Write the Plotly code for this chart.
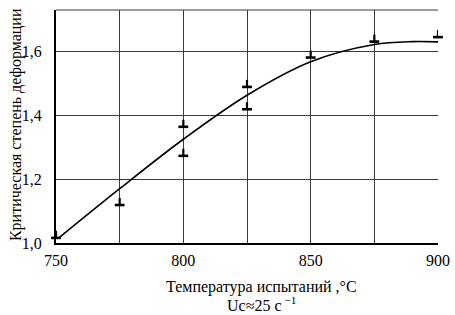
import plotly.graph_objects as go

# Experimental points (critical deformation degree)
pt_temp = [750, 775, 800, 800, 825, 825, 850, 875, 900]
pt_value = [1.016, 1.119, 1.364, 1.273, 1.489, 1.419, 1.581, 1.631, 1.645]

# Smoothed curve
curve_temp = [751, 775, 800, 825, 850, 875, 890, 900]
curve_value = [1.015, 1.17, 1.325, 1.463, 1.568, 1.622, 1.631, 1.630]

x_ticks = [750, 800, 850, 900]
y_ticks = [1.0, 1.2, 1.4, 1.6]

FONT = "Liberation Serif, Times New Roman, DejaVu Serif, serif"

fig = go.Figure()

fig.add_trace(go.Scatter(
    x=curve_temp, y=curve_value, mode="lines",
    line=dict(color="black", width=1.6, shape="spline", smoothing=1.0),
    hoverinfo="skip", showlegend=False,
))

# marker: horizontal base bar plus an upward stem (drawn as one-sided error bar)
fig.add_trace(go.Scatter(
    x=pt_temp, y=pt_value, mode="markers", cliponaxis=False,
    marker=dict(symbol="line-ew", size=7, line=dict(color="black", width=2.6)),
    error_y=dict(type="constant", symmetric=False, value=0.022, valueminus=0,
                 width=0, thickness=2.2, color="black"),
    showlegend=False,
))

fig.update_layout(
    width=455, height=315,
    margin=dict(l=56, r=17, t=10, b=72),
    paper_bgcolor="white", plot_bgcolor="white",
    separators=", ",
    font=dict(family=FONT, size=16, color="black"),
    xaxis=dict(
        range=[750, 900], tickvals=x_ticks, tickformat="d",
        showgrid=True, gridcolor="#3a3a3a", gridwidth=1,
        minor=dict(dtick=25, tick0=750, showgrid=True, gridcolor="#3a3a3a", gridwidth=1),
        showline=True, linecolor="black", linewidth=2,
        ticks="", zeroline=False, ticklabelstandoff=2, automargin=False,
        tickfont=dict(family=FONT, size=16),
    ),
    yaxis=dict(
        range=[1.0, 1.73], tickvals=y_ticks, tickformat=".1f",
        showgrid=True, gridcolor="#3a3a3a", gridwidth=1,
        showline=True, linecolor="black", linewidth=2,
        ticks="", zeroline=False, ticklabelstandoff=9, automargin=False,
        tickfont=dict(family=FONT, size=16),
    ),
    shapes=[dict(type="line", xref="paper", yref="paper", x0=0, x1=1, y0=1, y1=1,
                 line=dict(color="#3a3a3a", width=1))],
    annotations=[
        dict(text="Температура испытаний ,°C", xref="paper", yref="paper",
             x=0.537, y=-0.188, xanchor="center", yanchor="middle", showarrow=False,
             font=dict(family=FONT, size=16)),
        dict(text="Uc≈25 с<sup> −1</sup>", xref="paper", yref="paper",
             x=0.537, y=-0.262, xanchor="center", yanchor="middle", showarrow=False,
             font=dict(family=FONT, size=16)),
        dict(text="Критическая степень деформации", xref="paper", yref="paper",
             x=-0.105, y=0.51, xanchor="center", yanchor="middle", showarrow=False,
             textangle=-90, font=dict(family=FONT, size=16)),
    ],
)

fig.write_html(
    "out.html",
    config={"displayModeBar": False},
    post_script="document.body.style.margin='0';document.body.style.padding='0';",
)
